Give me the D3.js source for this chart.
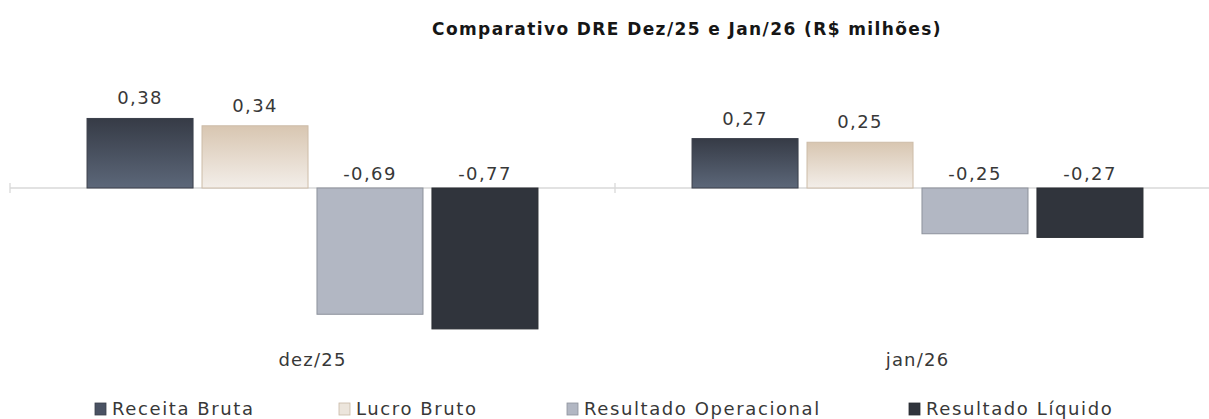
<!DOCTYPE html>
<html>
<head>
<meta charset="utf-8">
<script src="https://cdn.jsdelivr.net/npm/d3@7"></script>
<style>
  body { margin: 0; background: #fff; }
  text { font-family: "DejaVu Sans", "Noto Sans", sans-serif; }
</style>
</head>
<body>
<div id="chart"></div>
<script>
var categories = ["dez/25", "jan/26"]
var seriesNames = ["Receita Bruta", "Lucro Bruto", "Resultado Operacional", "Resultado Líquido"]
var receitaBruta = [0.38, 0.27]
var lucroBruto = [0.34, 0.25]
var resultadoOperacional = [-0.69, -0.25]
var resultadoLiquido = [-0.77, -0.27]

var seriesValues = [receitaBruta, lucroBruto, resultadoOperacional, resultadoLiquido]

var width = 1209, height = 419

var svg = d3.select("#chart").append("svg")
  .attr("width", width)
  .attr("height", height)

// gradients for the two first series
var defs = svg.append("defs")
function grad(id, top, bottom) {
  var g = defs.append("linearGradient").attr("id", id)
    .attr("x1", 0).attr("y1", 0).attr("x2", 0).attr("y2", 1)
  g.append("stop").attr("offset", "0%").attr("stop-color", top)
  g.append("stop").attr("offset", "100%").attr("stop-color", bottom)
}
grad("gReceita", "#363b46", "#5c6779")
grad("gLucro", "#d8c6b1", "#f3eee9")

var fills = ["url(#gReceita)", "url(#gLucro)", "#b2b7c3", "#30343c"]
var strokes = ["#3a3f4a", "#cdbca8", "#8d929c", "#2a2d33"]
var legendFills = ["#4a5263", "#ece5dc", "#b2b7c3", "#30343c"]
var legendStrokes = ["#3a3f4a", "#c8b8a5", "#8d929c", "#2a2d33"]

var x0 = d3.scaleBand().domain(categories).range([10, 1220])
var x1 = d3.scaleBand().domain(seriesNames).range([0, x0.bandwidth()])
  .paddingInner(0.078).paddingOuter(0.67)
var y = d3.scaleLinear().domain([-1, 0.5]).range([371, 96.5])

var fmt = function (v) { return d3.format(".2f")(v).replace(".", ",").replace("−", "-") }

// title
svg.append("text")
  .attr("x", 687).attr("y", 35)
  .attr("text-anchor", "middle")
  .attr("font-size", "17px")
  .attr("font-weight", "bold")
  .attr("letter-spacing", "1.4px")
  .attr("fill", "#161616")
  .text("Comparativo DRE Dez/25 e Jan/26 (R$ milhões)")

// zero axis
svg.append("line")
  .attr("x1", 10).attr("x2", width)
  .attr("y1", y(0)).attr("y2", y(0))
  .attr("stroke", "#d9d9d9").attr("stroke-width", 1.3)
svg.selectAll(".tick").data(categories).enter()
  .append("line")
  .attr("x1", d => x0(d)).attr("x2", d => x0(d))
  .attr("y1", y(0) - 5).attr("y2", y(0) + 5)
  .attr("stroke", "#d9d9d9").attr("stroke-width", 1.3)

// bars
var rows = []
categories.forEach(function (c, ci) {
  seriesNames.forEach(function (s, si) {
    rows.push({ cat: c, series: s, si: si, value: seriesValues[si][ci] })
  })
})

svg.selectAll(".bar").data(rows).enter()
  .append("rect")
  .attr("class", "bar")
  .attr("x", d => x0(d.cat) + x1(d.series))
  .attr("y", d => y(Math.max(0, d.value)))
  .attr("width", x1.bandwidth())
  .attr("height", d => Math.abs(y(d.value) - y(0)))
  .attr("fill", d => fills[d.si])
  .attr("stroke", d => strokes[d.si])
  .attr("stroke-width", 1)

// value labels
svg.selectAll(".lbl").data(rows).enter()
  .append("text")
  .attr("class", "lbl")
  .attr("x", d => x0(d.cat) + x1(d.series) + x1.bandwidth() / 2)
  .attr("y", d => d.value > 0 ? y(d.value) - 14 : y(0) - 8)
  .attr("text-anchor", "middle")
  .attr("font-size", "18px")
  .attr("letter-spacing", "1.4px")
  .attr("fill", "#383838")
  .text(d => fmt(d.value))

// category labels
svg.selectAll(".cat").data(categories).enter()
  .append("text")
  .attr("class", "cat")
  .attr("x", d => x0(d) + x0.bandwidth() / 2)
  .attr("y", 366)
  .attr("text-anchor", "middle")
  .attr("font-size", "18px")
  .attr("letter-spacing", "1.2px")
  .attr("fill", "#383838")
  .text(d => d)

// legend
var legendX = [95, 339, 567, 909]
var lg = svg.selectAll(".leg").data(seriesNames).enter()
  .append("g")
  .attr("class", "leg")
  .attr("transform", (d, i) => "translate(" + legendX[i] + ",415)")
lg.append("rect")
  .attr("x", 0).attr("y", -12)
  .attr("width", 11).attr("height", 12)
  .attr("fill", (d, i) => legendFills[i])
  .attr("stroke", (d, i) => legendStrokes[i])
  .attr("stroke-width", 0.8)
lg.append("text")
  .attr("x", 17).attr("y", 0)
  .attr("font-size", "18px")
  .attr("letter-spacing", "1.6px")
  .attr("fill", "#383838")
  .text(d => d)
</script>
</body>
</html>
